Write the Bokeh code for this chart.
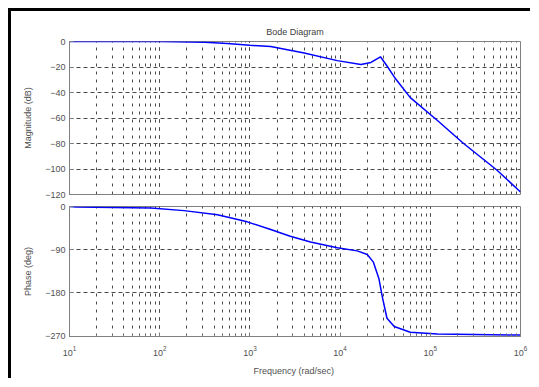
from bokeh.plotting import figure
from bokeh.layouts import column
from bokeh.models import Range1d, FixedTicker, LogTicker
from bokeh.embed import file_html
from bokeh.resources import INLINE

# ---- data ----
mag_freq = [10, 100, 316, 562, 1000, 1700, 4000, 9300, 17000, 22000, 28000,
            33000, 40000, 60000, 120000, 234000, 550000, 1000000]
mag_db = [0, 0, -0.5, -1.5, -3, -4, -9, -15, -18, -16.4, -12,
          -19, -28, -44, -62, -80, -101, -118]

phase_freq = [10, 12, 80, 186, 437, 933, 1700, 2800, 4700, 9300, 15500, 20000,
              23400, 26900, 29500, 33100, 39800, 60000, 120000, 1000000]
phase_deg = [0, -1, -3, -8.6, -17, -32, -48, -62, -74, -86, -92.5, -100,
             -116, -150, -190, -233, -250, -262, -266, -268]

x_ticks = [10, 100, 1000, 10000, 100000, 1000000]
x_tick_labels = ["10\u00b9", "10\u00b2", "10\u00b3", "10\u2074", "10\u2075", "10\u2076"]
mag_ticks = [-120, -100, -80, -60, -40, -20, 0]
phase_ticks = [-270, -180, -90, 0]

title_text = "Bode Diagram"
mag_label = "Magnitude (dB)"
phase_label = "Phase (deg)"
x_label = "Frequency  (rad/sec)"

FONT = "Liberation Sans"
GRID = "#4a4a4a"
FRAME = "#808080"
TXT = "#505050"

xr = Range1d(10, 1000000)


def style(p, yticks):
    p.outline_line_color = FRAME
    p.outline_line_width = 1
    p.background_fill_color = "white"
    p.border_fill_color = "white"
    for ax in (p.xaxis[0], p.yaxis[0]):
        ax.axis_line_color = FRAME
        ax.major_tick_line_color = FRAME
        ax.minor_tick_line_color = FRAME
        ax.major_tick_in = 4
        ax.major_tick_out = 0
        ax.minor_tick_in = 2
        ax.minor_tick_out = 0
        ax.major_label_text_font = FONT
        ax.major_label_text_font_size = "9px"
        ax.major_label_text_color = TXT
        ax.axis_label_text_font = FONT
        ax.axis_label_text_font_size = "9px"
        ax.axis_label_text_font_style = "normal"
        ax.axis_label_text_color = TXT
    p.yaxis[0].ticker = FixedTicker(ticks=yticks, minor_ticks=[])
    p.yaxis[0].major_label_standoff = 4
    p.yaxis[0].axis_label_standoff = 9
    p.xgrid.grid_line_color = GRID
    p.xgrid.grid_line_dash = "3 5"
    p.xgrid.grid_line_width = 1
    p.xgrid.minor_grid_line_color = GRID
    p.xgrid.minor_grid_line_dash = "3 5"
    p.xgrid.minor_grid_line_width = 1
    p.ygrid.grid_line_color = GRID
    p.ygrid.grid_line_dash = "4 3"
    p.ygrid.grid_line_width = 1


p1 = figure(width=519, height=188, x_axis_type="log", x_range=xr,
            y_range=Range1d(-120, 0), output_backend="svg", toolbar_location=None,
            min_border_left=58, min_border_right=10, min_border_top=30,
            min_border_bottom=5, title=title_text)
style(p1, mag_ticks)
p1.yaxis[0].axis_label = mag_label
p1.xaxis[0].visible = False
p1.title.align = "center"
p1.title.text_font = FONT
p1.title.text_font_size = "9px"
p1.title.text_font_style = "normal"
p1.title.text_color = "#404040"
p1.line(mag_freq, mag_db, line_color="#0000ff", line_width=1.5)

p2 = figure(width=519, height=179, x_axis_type="log", x_range=xr,
            y_range=Range1d(-271, 0), output_backend="svg", toolbar_location=None,
            min_border_left=58, min_border_right=10, min_border_top=7,
            min_border_bottom=38)
style(p2, phase_ticks)
p2.yaxis[0].axis_label = phase_label
p2.xaxis[0].axis_label = x_label
p2.xaxis[0].major_label_overrides = {str(t): l for t, l in zip(x_ticks, x_tick_labels)}
p2.xaxis[0].major_label_standoff = 9
p2.xaxis[0].axis_label_standoff = 7
p2.line(phase_freq, phase_deg, line_color="#0000ff", line_width=1.5)

layout = column(p1, p2, spacing=0,
                styles={"border-left": "3px solid black", "border-top": "3px solid black",
                        "margin-left": "8px", "margin-top": "8px",
                        "box-sizing": "content-box"})

open("out.html", "w").write(file_html(layout, INLINE))
